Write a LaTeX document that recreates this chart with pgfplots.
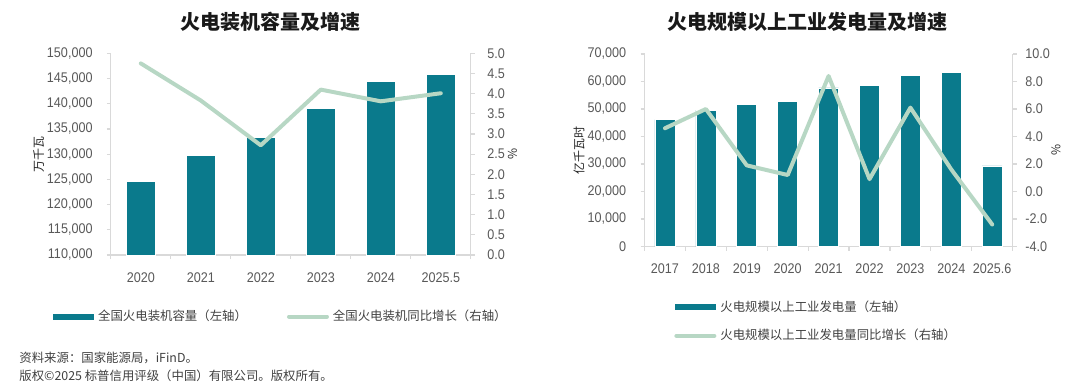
\documentclass[border=0pt]{standalone}
\usepackage{fontspec}
\usepackage{pgfplots}
\pgfplotsset{compat=1.18}
\setmainfont{Noto Sans CJK SC}
\newfontfamily\cjk{Noto Sans CJK SC}
\newfontfamily\tickfont[FakeStretch=0.9]{Liberation Sans}
\definecolor{barc}{HTML}{0A7A8C}
\definecolor{linec}{HTML}{B7D7C4}
\definecolor{tickc}{HTML}{595959}
\definecolor{axc}{HTML}{D9D9D9}
\definecolor{txtc}{HTML}{404040}
\tikzset{leftlab/.style={font=\cjk\fontsize{6}{7}\selectfont, text=black!85}}
\pgfplotsset{
  base/.style={
    scale only axis, anchor=south west,
    axis line style={axc, line width=0.6pt},
    tick style={axc, line width=0.6pt},
    tick align=outside, major tick length=2pt, minor tick length=2pt,
    tick label style={font=\tickfont\fontsize{7}{8}\selectfont, text=tickc},
    scaled y ticks=false,
  },
  legbar/.style={legend image code/.code={\fill[barc] (0pt,-1.25pt) rectangle (20pt,1.25pt);}},
  legline/.style={legend image code/.code={\draw[linec, line width=2pt, line cap=round] (0.5pt,0pt) -- (19.5pt,0pt);}},
}
\begin{document}
\begin{tikzpicture}[x=1pt,y=1pt]
\useasboundingbox (0,0) rectangle (540,193.5);
% titles
\node[font=\cjk\bfseries\fontsize{10}{12}\selectfont, text=black!90] at (135,182.5) {火电装机容量及增速};
\node[font=\cjk\bfseries\fontsize{10}{12}\selectfont, text=black!90] at (403.5,182.5) {火电规模以上工业发电量及增速};
% ---------------- left chart ----------------
\begin{axis}[base, at={(55.4pt,66pt)}, width=180pt, height=100.85pt,
  xmin=-0.5, xmax=5.5, ymin=110000, ymax=150000,
  axis y line*=left, axis x line*=bottom,
  xtick={0,1,2,3,4,5}, xticklabels={2020,2021,2022,2023,2024,2025.5},
  major x tick style={draw=none},
  minor xtick={-0.5,0.5,1.5,2.5,3.5,4.5,5.5},
  ytick={110000,115000,120000,125000,130000,135000,140000,145000,150000},
  yticklabels={{110,000},{115,000},{120,000},{125,000},{130,000},{135,000},{140,000},{145,000},{150,000}},
  y tick label style={xshift=-3.6pt},
  x tick label style={yshift=-3.4pt},
  ylabel={万千瓦}, ylabel style={leftlab, at={(axis description cs:-0.2006,0.5)}, anchor=center},
]
\addplot[ybar, bar width=14.15pt, fill=barc, draw=white, line width=0.3pt] coordinates {
  (0,124600) (1,129700) (2,133250) (3,139000) (4,144450) (5,145800)};
\end{axis}
\begin{axis}[base, at={(55.4pt,66pt)}, width=180pt, height=100.85pt,
  xmin=-0.5, xmax=5.5, ymin=0, ymax=5,
  axis y line*=right, axis x line=none,
  ytick={0,0.5,1,1.5,2,2.5,3,3.5,4,4.5,5},
  yticklabels={0.0,0.5,1.0,1.5,2.0,2.5,3.0,3.5,4.0,4.5,5.0},
  y tick label style={xshift=2.8pt},
  ylabel={\%}, ylabel style={leftlab, at={(axis description cs:1.116,0.5)}, anchor=center},
  legend columns=2, legend cell align=left,
  legend style={at={(axis description cs:-0.1606,-0.305)}, anchor=west, draw=none, fill=none,
    font=\cjk\fontsize{6.2}{7}\selectfont, text=txtc, inner sep=0pt,
    /tikz/every even column/.append style={column sep=18pt}},
]
\addlegendimage{legbar}
\addlegendentry{全国火电装机容量（左轴）}
\addplot[linec, line width=2pt, line join=round, line cap=round, legline] coordinates {
  (0,4.75) (1,3.83) (2,2.72) (3,4.10) (4,3.81) (5,4.01)};
\addlegendentry{全国火电装机同比增长（右轴）}
\end{axis}
% ---------------- right chart ----------------
\begin{axis}[base, at={(322.25pt,70.25pt)}, width=184.1pt, height=96.25pt,
  xmin=-0.5, xmax=8.5, ymin=0, ymax=70000,
  axis y line*=left, axis x line*=bottom,
  xtick={0,1,2,3,4,5,6,7,8}, xticklabels={2017,2018,2019,2020,2021,2022,2023,2024,2025.6},
  major x tick style={draw=none},
  minor xtick={-0.5,0.5,1.5,2.5,3.5,4.5,5.5,6.5,7.5,8.5},
  ytick={0,10000,20000,30000,40000,50000,60000,70000},
  yticklabels={0,{10,000},{20,000},{30,000},{40,000},{50,000},{60,000},{70,000}},
  y tick label style={xshift=-3.6pt},
  x tick label style={yshift=-3pt},
  ylabel={亿千瓦时}, ylabel style={leftlab, at={(axis description cs:-0.178,0.5)}, anchor=center},
]
\addplot[ybar, bar width=10pt, fill=barc, draw=white, line width=0.3pt] coordinates {
  (0,46100) (1,49600) (2,51600) (3,52800) (4,57700) (5,58500) (6,62300) (7,63400) (8,29300)};
\end{axis}
\begin{axis}[base, at={(322.25pt,70.25pt)}, width=184.1pt, height=96.25pt,
  xmin=-0.5, xmax=8.5, ymin=-4, ymax=10,
  axis y line*=right, axis x line=none,
  ytick={-4,-2,0,2,4,6,8,10},
  yticklabels={-4.0,-2.0,0.0,2.0,4.0,6.0,8.0,10.0},
  y tick label style={xshift=0.8pt},
  ylabel={\%}, ylabel style={leftlab, at={(axis description cs:1.1176,0.5)}, anchor=center},
  legend columns=1, legend cell align=left,
  legend style={at={(axis description cs:0.080,-0.390)}, anchor=west, draw=none, fill=none,
    font=\cjk\fontsize{6.2}{7}\selectfont, text=txtc, inner sep=0pt, row sep=3.5pt},
]
\addlegendimage{legbar}
\addlegendentry{火电规模以上工业发电量（左轴）}
\addplot[linec, line width=2pt, line join=round, line cap=round, legline] coordinates {
  (0,4.6) (1,6.0) (2,1.9) (3,1.2) (4,8.4) (5,0.9) (6,6.1) (7,1.6) (8,-2.4)};
\addlegendentry{火电规模以上工业发电量同比增长（右轴）}
\end{axis}
% footer
\node[anchor=west, font=\cjk\fontsize{6.2}{7}\selectfont, text=txtc, inner sep=0pt] at (9.5,14.65) {资料来源：国家能源局，iFinD。};
\node[anchor=west, font=\cjk\fontsize{6.2}{7}\selectfont, text=txtc, inner sep=0pt] at (9.5,5.5) {版权©2025 标普信用评级（中国）有限公司。版权所有。};
\end{tikzpicture}
\end{document}
